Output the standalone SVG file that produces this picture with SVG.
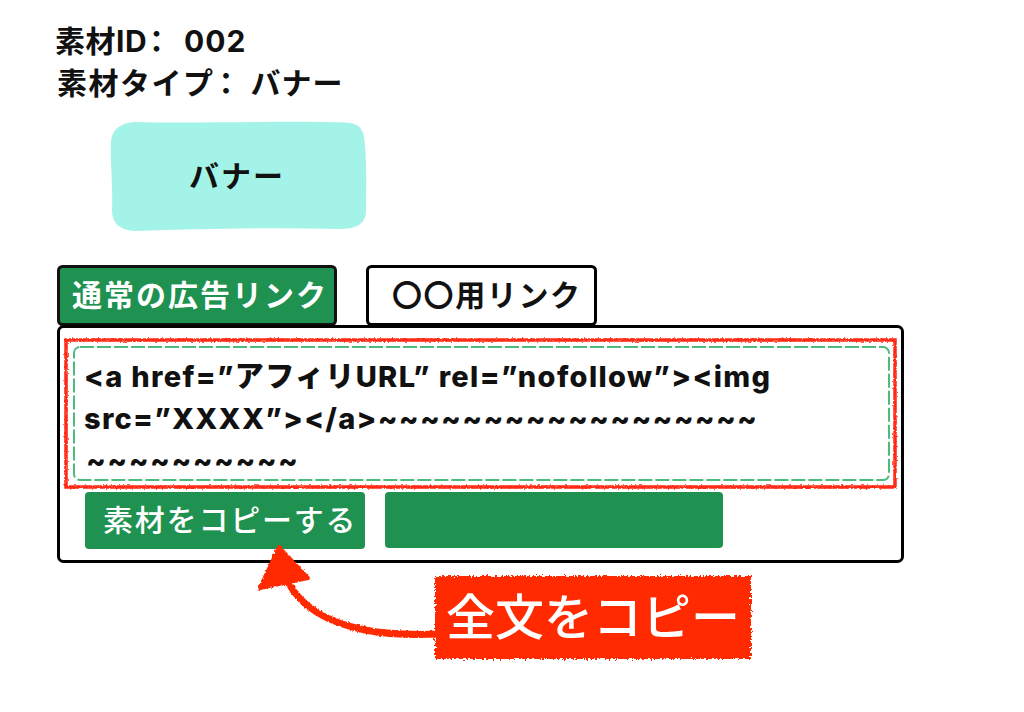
<svg xmlns="http://www.w3.org/2000/svg" width="1024" height="712" viewBox="0 0 1024 712">
<style>
text{font-family:"Inter","Noto Sans CJK JP",sans-serif;font-weight:700;fill:#111}
.w{fill:#fff;font-weight:500}
.c{font-family:"Noto Sans CJK JP",sans-serif}
.p{font-family:"Noto Sans CJK JP",sans-serif;font-feature-settings:"palt"}
.code{font-weight:800;font-size:29px}
.box{fill:#fff;stroke:#000;stroke-width:3}
.g{fill:#1f9150}
</style>
<defs>
<filter id="rough" x="-5%" y="-5%" width="110%" height="110%"><feTurbulence type="fractalNoise" baseFrequency="0.5" numOctaves="2" seed="4"/><feDisplacementMap in="SourceGraphic" scale="3" xChannelSelector="R" yChannelSelector="G"/></filter>
<filter id="rough2" x="-5%" y="-5%" width="110%" height="110%"><feTurbulence type="fractalNoise" baseFrequency="0.45" numOctaves="2" seed="9"/><feDisplacementMap in="SourceGraphic" scale="6" xChannelSelector="R" yChannelSelector="G"/></filter>
</defs>
<rect width="1024" height="712" fill="#fff"/>
<g id="meta">
<text x="55" y="52" font-size="30"><tspan letter-spacing="0.5">素材ID</tspan><tspan dx="2" class="p">：</tspan><tspan dx="20" letter-spacing="1">002</tspan></text>
<text x="57" y="94" font-size="30"><tspan letter-spacing="1.500">素材タイプ</tspan><tspan dx="4" class="p">：</tspan><tspan dx="17" class="c" letter-spacing="1">バナー</tspan></text>
</g>
<g id="banner">
<path d="M135 122C200 124 300 120 350 123C362 125 364 132 365 145C367 170 366 195 366 212C365 225 355 229 340 229C270 227 200 229 135 231C120 230 112 224 112 210C113 185 110 160 111 142C112 128 122 123 135 122Z" fill="#a4f3e8"/>
<text class="c" x="189" y="187" font-size="30" letter-spacing="2">バナー</text>
</g>
<g id="tab-normal">
<rect x="58.500" y="266.500" width="277" height="58" rx="4" fill="#1f9150" stroke="#111" stroke-width="3"/>
<text class="w" x="72" y="306" font-size="30" letter-spacing="2" style="font-weight:700">通常の広告リンク</text>
</g>
<g id="tab-other">
<rect x="367.500" y="266.500" width="228" height="58" rx="4" class="box"/>
<text class="c" x="392" y="306" font-size="30" letter-spacing="1.600">〇〇用リンク</text>
</g>
<g id="panel">
<rect x="58.500" y="326.500" width="844" height="235" rx="5" class="box"/>
</g>
<g id="code">
<rect x="66" y="340" width="829" height="147" fill="none" stroke="#ff2a12" stroke-width="3.500" filter="url(#rough)"/>
<rect x="74" y="347" width="815" height="133" rx="6" fill="none" stroke="#4dbb7c" stroke-width="2" stroke-dasharray="14 3"/>
<text class="code" x="84" y="387" textLength="686">&lt;a href=”アフィリURL” rel=”nofollow”&gt;&lt;img</text>
<text class="code" x="84" y="429" textLength="673">src=”XXXX”&gt;&lt;/a&gt;~~~~~~~~~~~~~~~~~~</text>
<text class="code" x="86" y="471" textLength="212">~~~~~~~~~~</text>
</g>
<g id="btn-copy">
<rect x="85" y="492" width="280" height="57" rx="4" class="g"/>
<text class="w" x="103" y="531" font-size="30" letter-spacing="1.800">素材をコピーする</text>
</g>
<g id="btn-empty">
<rect x="385" y="492" width="338" height="56" rx="4" class="g"/>
</g>
<g id="connectors">
<path d="M288 582C300 605 325 622 365 630C390 635 415 635 440 634" fill="none" stroke="#ff2a00" stroke-width="7" filter="url(#rough)"/>
<path d="M279 547L308 578L260 588Z" fill="#ff2a00" stroke="#ff2a00" stroke-width="4" stroke-linejoin="round" filter="url(#rough)"/>
</g>
<g id="callout">
<rect x="435" y="576" width="316" height="83" fill="#ff2a00" filter="url(#rough2)"/>
<text class="w" x="446" y="635" font-size="49">全文をコピー</text>
</g>
</svg>
